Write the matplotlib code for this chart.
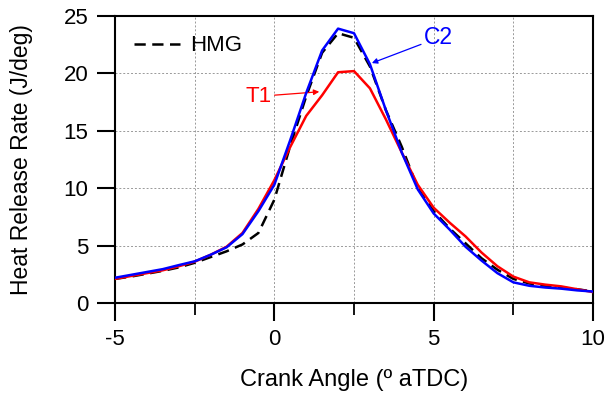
import matplotlib
matplotlib.use("Agg")
import matplotlib.pyplot as plt
import numpy as np

plt.rcParams['font.family'] = ['Liberation Sans', 'DejaVu Sans']
plt.rcParams['axes.unicode_minus'] = False

theta = [-5, -4.5, -4, -3.5, -3, -2.5, -2, -1.5, -1, -0.5, 0, 0.5, 1, 1.5, 2, 2.5,
         3, 3.5, 4, 4.5, 5, 5.5, 6, 6.5, 7, 7.5, 8, 8.5, 9, 9.5, 10]

hmg = [2.1, 2.3, 2.55, 2.8, 3.1, 3.5, 4.0, 4.5, 5.1, 6.1, 9.0, 13.7, 18.0, 21.8, 23.5, 23.1,
       20.6, 16.8, 13.6, 10.0, 8.0, 6.5, 5.2, 3.9, 2.9, 2.1, 1.7, 1.5, 1.35, 1.2, 1.0]

c2 = [2.2, 2.45, 2.7, 2.95, 3.3, 3.63, 4.2, 4.85, 6.0, 8.0, 10.3, 14.2, 18.3, 22.0, 23.9, 23.5,
      20.8, 16.8, 13.1, 9.9, 7.8, 6.4, 4.9, 3.7, 2.6, 1.8, 1.5, 1.35, 1.25, 1.1, 1.0]

t1 = [2.1, 2.35, 2.6, 2.85, 3.2, 3.6, 4.2, 4.9, 6.1, 8.2, 10.7, 13.6, 16.3, 18.1, 20.1, 20.2,
      18.7, 16.0, 13.1, 10.3, 8.3, 7.0, 5.8, 4.4, 3.2, 2.3, 1.8, 1.6, 1.45, 1.2, 0.95]

x_major = [-5, 0, 5, 10]
x_minor = [-2.5, 2.5, 7.5]
y_major = [0, 5, 10, 15, 20, 25]

fig = plt.figure(figsize=(6.13, 4.0), dpi=100)
ax = fig.add_axes([0.1876, 0.2425, 0.7798, 0.7175])

ax.plot(theta, hmg, color='black', lw=1.8, ls=(0, (4.5, 2.6)), label='HMG', zorder=3)
ax.plot(theta, t1, color='#ff0000', lw=1.8, zorder=4)
ax.plot(theta, c2, color='#0000ff', lw=1.8, zorder=5)

ax.set_xlim(-5, 10)
ax.set_ylim(0, 25)
ax.set_xticks(x_major)
ax.set_xticks(x_minor, minor=True)
ax.set_yticks(y_major)
ax.grid(True, which='both', color='#999999', ls=(0, (2, 2)), lw=0.7)
ax.set_axisbelow(True)

for s in ax.spines.values():
    s.set_linewidth(1.5)

ax.tick_params(axis='both', which='major', direction='out', length=13, width=1.5,
               labelsize=16)
ax.tick_params(axis='x', which='major', pad=6)
ax.tick_params(axis='y', which='major', pad=6)
ax.tick_params(axis='x', which='minor', direction='out', length=8.5, width=1.3)
ax.tick_params(axis='y', which='minor', left=False)

ax.set_xlabel('Crank Angle (º aTDC)', fontsize=17)
ax.set_ylabel('Heat Release Rate (J/deg)', fontsize=16.5)
ax.xaxis.set_label_coords(0.5, -0.268)
ax.xaxis.label.set_va('center')
ax.yaxis.set_label_coords(-0.1946, 0.5)
ax.yaxis.label.set_va('center')

leg = ax.legend(loc='center left', bbox_to_anchor=(0.0397, 0.8955), frameon=False,
                fontsize=16, handlelength=2.07, handletextpad=0.45,
                borderaxespad=0, borderpad=0)

ax.annotate('C2', xy=(3.06, 20.9), xytext=(4.69, 23.1), color='#0000ff', fontsize=16.5,
            ha='left', va='center',
            arrowprops=dict(arrowstyle='-|>', color='#0000ff', lw=0.9,
                            mutation_scale=8, shrinkA=0, shrinkB=0))
ax.annotate('T1', xy=(1.41, 18.4), xytext=(-0.08, 18.0), color='#ff0000', fontsize=16,
            ha='right', va='center',
            arrowprops=dict(arrowstyle='-|>', color='#ff0000', lw=0.9,
                            mutation_scale=8, shrinkA=0, shrinkB=0))

fig.savefig('out.png', dpi=100)
